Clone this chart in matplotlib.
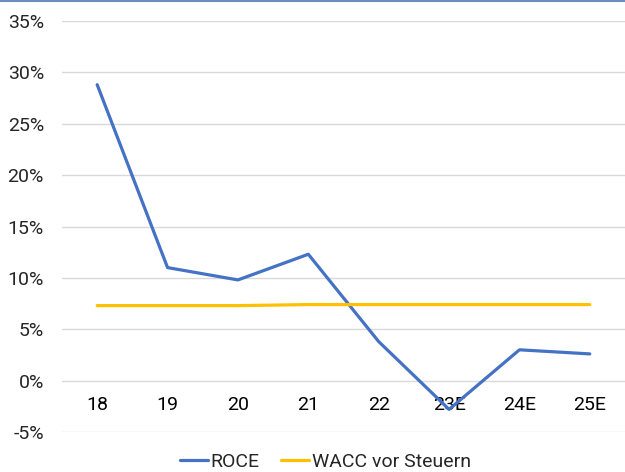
import matplotlib
matplotlib.use("Agg")
import matplotlib.pyplot as plt
from matplotlib.lines import Line2D
from matplotlib.ticker import FuncFormatter, MultipleLocator

categories = ["18", "19", "20", "21", "22", "23E", "24E", "25E"]
roce = [28.8, 11.0, 9.8, 12.3, 3.8, -2.8, 3.0, 2.6]
wacc = [7.3, 7.3, 7.3, 7.4, 7.4, 7.4, 7.4, 7.4]
series_names = ["ROCE", "WACC vor Steuern"]

plt.rcParams['font.family'] = ['Roboto', 'DejaVu Sans']
FS = 14

fig = plt.figure(figsize=(6.25, 4.72), dpi=100)
ax = fig.add_axes([62/625, 40/472, 1 - 62/625, 411/472])

x = list(range(len(categories)))
ax.plot(x, roce, color="#4472C4", lw=2.3, label=series_names[0], solid_capstyle="round")
ax.plot(x, wacc, color="#FFC000", lw=2.3, label=series_names[1], solid_capstyle="round")

ax.set_xlim(-0.5, len(categories) - 0.5)
ax.set_ylim(-5, 35)
ax.yaxis.set_major_locator(MultipleLocator(5))
ax.yaxis.set_major_formatter(FuncFormatter(lambda v, p: f"{v:.0f}%"))
ax.grid(axis="y", color="#d9d9d9", lw=1)
ax.set_axisbelow(True)
for s in ax.spines.values():
    s.set_visible(False)
ax.spines['bottom'].set_position(('data', 0))
ax.set_xticks(x)
ax.set_xticklabels(categories)
ax.tick_params(axis="x", length=0, pad=11, labelsize=FS, colors="#000000")
ax.tick_params(axis="y", length=0, pad=13, labelsize=FS, colors="#262626")

fig.legend(loc="center", bbox_to_anchor=(0.521, 0.022), ncol=2, frameon=False,
           fontsize=FS, handlelength=1.45, handletextpad=0.15, columnspacing=1.1,
           labelcolor="#262626", borderpad=0.2)

fig.add_artist(Line2D([0, 1], [0.998, 0.998], transform=fig.transFigure,
                      color="#6c8ebf", lw=1.5))

fig.savefig("out.png", dpi=100)
